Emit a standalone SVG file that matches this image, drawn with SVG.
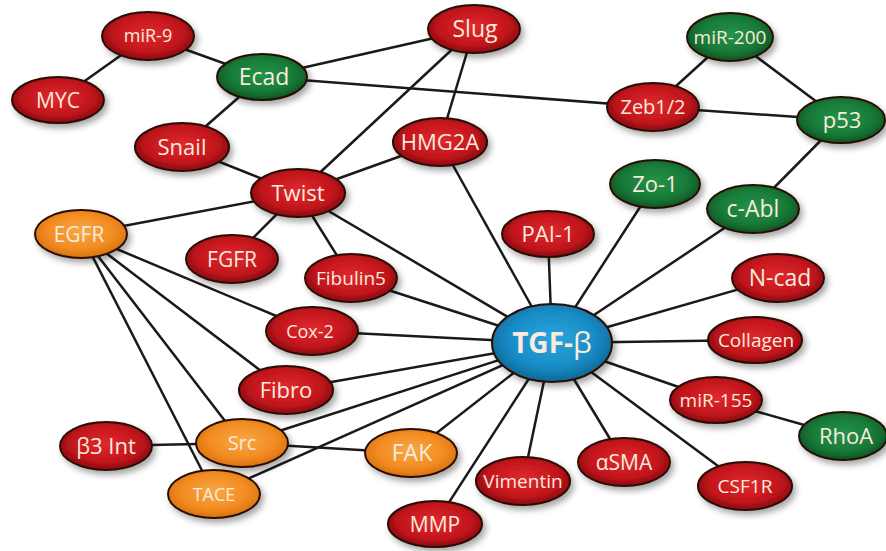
<svg xmlns="http://www.w3.org/2000/svg" width="886" height="551" viewBox="0 0 886 551">
<defs>
<radialGradient id="gr" cx="50%" cy="45%" r="60%"><stop offset="0" stop-color="#de2a2e"/><stop offset="0.6" stop-color="#c4161d"/><stop offset="1" stop-color="#7e080d"/></radialGradient>
<radialGradient id="gg" cx="50%" cy="45%" r="60%"><stop offset="0" stop-color="#23934a"/><stop offset="0.6" stop-color="#187a38"/><stop offset="1" stop-color="#0a4a1e"/></radialGradient>
<radialGradient id="go" cx="50%" cy="45%" r="60%"><stop offset="0" stop-color="#f8a844"/><stop offset="0.6" stop-color="#f28c22"/><stop offset="1" stop-color="#d06a0c"/></radialGradient>
<radialGradient id="gb" cx="50%" cy="45%" r="60%"><stop offset="0" stop-color="#2aa6dc"/><stop offset="0.6" stop-color="#178cc6"/><stop offset="1" stop-color="#0b5f8e"/></radialGradient>
<filter id="sh" x="-20%" y="-20%" width="150%" height="160%"><feDropShadow dx="3" dy="4" stdDeviation="3" flood-color="#000" flood-opacity="0.35"/></filter>
</defs>
<style>
.n ellipse{stroke:#2a0c06;stroke-width:2;filter:url(#sh)}
.r ellipse{fill:url(#gr)}
.g ellipse{fill:url(#gg)}
.o ellipse{fill:url(#go)}
.b ellipse{fill:url(#gb)}
.n text{font-family:"Open Sans","Liberation Sans",sans-serif;fill:#fbeadd;text-anchor:middle}
#edges line{stroke:#1a1a1a;stroke-width:2.5}
</style>
<rect width="886" height="551" fill="#ffffff"/>
<g id="edges">
<line x1="148" y1="36" x2="58" y2="100"/>
<line x1="148" y1="36" x2="262" y2="77"/>
<line x1="262" y1="77" x2="182" y2="147"/>
<line x1="262" y1="77" x2="474" y2="29"/>
<line x1="262" y1="77" x2="653" y2="107"/>
<line x1="182" y1="147" x2="298" y2="193"/>
<line x1="474" y1="29" x2="298" y2="193"/>
<line x1="474" y1="29" x2="440" y2="142"/>
<line x1="298" y1="193" x2="440" y2="142"/>
<line x1="298" y1="193" x2="81" y2="234"/>
<line x1="298" y1="193" x2="232" y2="259"/>
<line x1="298" y1="193" x2="351" y2="278"/>
<line x1="298" y1="193" x2="552" y2="343"/>
<line x1="440" y1="142" x2="552" y2="343"/>
<line x1="730" y1="37" x2="653" y2="107"/>
<line x1="730" y1="37" x2="841" y2="120"/>
<line x1="653" y1="107" x2="841" y2="120"/>
<line x1="841" y1="120" x2="753" y2="209"/>
<line x1="655" y1="184" x2="552" y2="343"/>
<line x1="753" y1="209" x2="552" y2="343"/>
<line x1="548" y1="234" x2="552" y2="343"/>
<line x1="778" y1="278" x2="552" y2="343"/>
<line x1="755" y1="340" x2="552" y2="343"/>
<line x1="351" y1="278" x2="552" y2="343"/>
<line x1="312" y1="331" x2="552" y2="343"/>
<line x1="286" y1="390" x2="552" y2="343"/>
<line x1="242" y1="443" x2="552" y2="343"/>
<line x1="214" y1="494" x2="552" y2="343"/>
<line x1="411" y1="453" x2="552" y2="343"/>
<line x1="435" y1="524" x2="552" y2="343"/>
<line x1="523" y1="481" x2="552" y2="343"/>
<line x1="624" y1="462" x2="552" y2="343"/>
<line x1="745" y1="486" x2="552" y2="343"/>
<line x1="716" y1="400" x2="552" y2="343"/>
<line x1="716" y1="400" x2="843" y2="436"/>
<line x1="81" y1="234" x2="312" y2="331"/>
<line x1="81" y1="234" x2="286" y2="390"/>
<line x1="81" y1="234" x2="242" y2="443"/>
<line x1="81" y1="234" x2="214" y2="494"/>
<line x1="106" y1="446" x2="242" y2="443"/>
<line x1="242" y1="443" x2="411" y2="453"/>
</g>
<g id="miR-9" class="n r"><ellipse cx="148" cy="36" rx="46" ry="24"/><text x="148" y="42" font-size="18">miR-9</text></g>
<g id="MYC" class="n r"><ellipse cx="58" cy="100" rx="46" ry="23"/><text x="58" y="107.5" font-size="21">MYC</text></g>
<g id="Ecad" class="n g"><ellipse cx="262" cy="77" rx="45" ry="23"/><text x="264" y="85" font-size="23">Ecad</text></g>
<g id="Snail" class="n r"><ellipse cx="182" cy="147" rx="47" ry="24"/><text x="182" y="155" font-size="22">Snail</text></g>
<g id="Slug" class="n r"><ellipse cx="474" cy="29" rx="46" ry="24"/><text x="475" y="37" font-size="23">Slug</text></g>
<g id="HMG2A" class="n r"><ellipse cx="440" cy="142" rx="47" ry="24"/><text x="440" y="150" font-size="22">HMG2A</text></g>
<g id="Twist" class="n r"><ellipse cx="298" cy="193" rx="47" ry="24"/><text x="298" y="201" font-size="22">Twist</text></g>
<g id="miR-200" class="n g"><ellipse cx="730" cy="37" rx="43" ry="24"/><text x="730" y="44" font-size="19">miR-200</text></g>
<g id="Zeb1-2" class="n r"><ellipse cx="653" cy="107" rx="46" ry="24"/><text x="653" y="114" font-size="20">Zeb1/2</text></g>
<g id="p53" class="n g"><ellipse cx="841" cy="120" rx="44" ry="23"/><text x="842" y="128" font-size="22">p53</text></g>
<g id="Zo-1" class="n g"><ellipse cx="655" cy="184" rx="45" ry="24"/><text x="655" y="192" font-size="22">Zo-1</text></g>
<g id="c-Abl" class="n g"><ellipse cx="753" cy="209" rx="46" ry="24"/><text x="753" y="217" font-size="23">c-Abl</text></g>
<g id="N-cad" class="n r"><ellipse cx="778" cy="278" rx="46" ry="24"/><text x="780" y="286" font-size="23">N-cad</text></g>
<g id="Collagen" class="n r"><ellipse cx="755" cy="340" rx="47" ry="23"/><text x="756" y="347" font-size="19">Collagen</text></g>
<g id="PAI-1" class="n r"><ellipse cx="548" cy="234" rx="46" ry="23"/><text x="548" y="242" font-size="22">PAI-1</text></g>
<g id="Fibulin5" class="n r"><ellipse cx="351" cy="278" rx="46" ry="24"/><text x="351" y="285" font-size="19">Fibulin5</text></g>
<g id="Cox-2" class="n r"><ellipse cx="312" cy="331" rx="46" ry="24"/><text x="310" y="338" font-size="18">Cox-2</text></g>
<g id="EGFR" class="n o"><ellipse cx="81" cy="234" rx="46" ry="24"/><text x="79" y="241.5" font-size="21">EGFR</text></g>
<g id="FGFR" class="n r"><ellipse cx="232" cy="259" rx="46" ry="24"/><text x="232" y="266.5" font-size="21">FGFR</text></g>
<g id="Fibro" class="n r"><ellipse cx="286" cy="390" rx="47" ry="24"/><text x="286" y="398" font-size="22">Fibro</text></g>
<g id="b3Int" class="n r"><ellipse cx="106" cy="446" rx="46" ry="24"/><text x="106" y="454" font-size="22">β3 Int</text></g>
<g id="Src" class="n o"><ellipse cx="242" cy="443" rx="46" ry="24"/><text x="242" y="450" font-size="20">Src</text></g>
<g id="TACE" class="n o"><ellipse cx="214" cy="494" rx="46" ry="24"/><text x="214" y="500.5" font-size="18">TACE</text></g>
<g id="FAK" class="n o"><ellipse cx="411" cy="453" rx="46" ry="24"/><text x="412" y="461" font-size="23">FAK</text></g>
<g id="Vimentin" class="n r"><ellipse cx="523" cy="481" rx="47" ry="24"/><text x="523" y="488" font-size="19">Vimentin</text></g>
<g id="MMP" class="n r"><ellipse cx="435" cy="524" rx="47" ry="23"/><text x="435" y="531.5" font-size="21">MMP</text></g>
<g id="miR-155" class="n r"><ellipse cx="716" cy="400" rx="46" ry="23"/><text x="716" y="407" font-size="19">miR-155</text></g>
<g id="RhoA" class="n g"><ellipse cx="843" cy="436" rx="44" ry="24"/><text x="846" y="444" font-size="22">RhoA</text></g>
<g id="aSMA" class="n r"><ellipse cx="624" cy="462" rx="46" ry="24"/><text x="624" y="469.5" font-size="21">αSMA</text></g>
<g id="CSF1R" class="n r"><ellipse cx="745" cy="486" rx="47" ry="24"/><text x="745" y="493" font-size="19">CSF1R</text></g>
<g id="TGF-b" class="n b"><ellipse cx="552" cy="343" rx="60" ry="39"/><text x="552" y="353" font-size="28"><tspan font-weight="bold">TGF</tspan><tspan font-weight="bold">-</tspan><tspan font-weight="normal" font-size="30">β</tspan></text></g>
</svg>
